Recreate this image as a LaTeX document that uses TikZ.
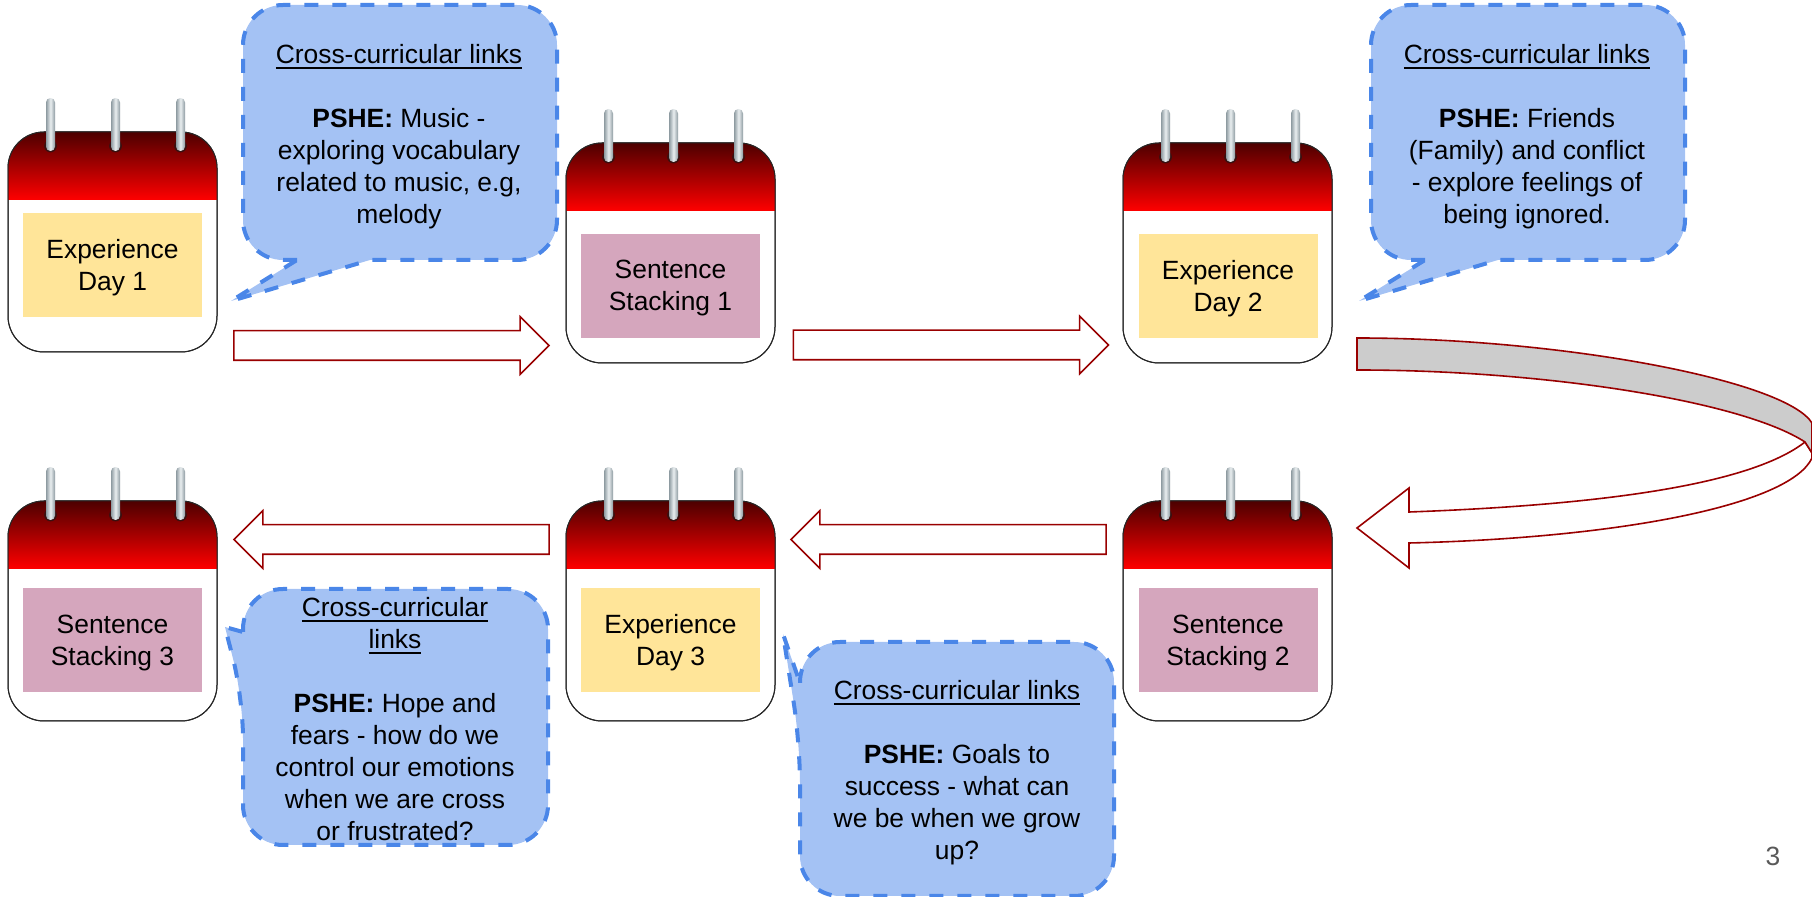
\documentclass[tikz,border=0pt]{standalone}
\usepackage{fontspec}
\setmainfont{Liberation Sans}
\usetikzlibrary{calc,shapes.arrows}
\definecolor{bandtop}{HTML}{4D0000}
\definecolor{bandred}{HTML}{FF0000}
\definecolor{ringedge}{HTML}{8E9BA1}
\definecolor{ringlight}{HTML}{E9EEF0}
\definecolor{ringhole}{HTML}{3A1010}
\definecolor{arrowred}{HTML}{990000}
\definecolor{expyellow}{HTML}{FFE599}
\definecolor{stackpink}{HTML}{D5A6BD}
\definecolor{linkfill}{HTML}{A4C2F4}
\definecolor{linkline}{HTML}{4A86E8}
\definecolor{pagegray}{HTML}{595959}
\newcommand{\linkhead}[1]{\setbox0\hbox{#1}\rlap{\rule[-2.6pt]{\wd0}{1pt}}\box0}
\tikzset{
  labeltext/.style={font=\fontsize{13.2}{16}\selectfont,align=center,text=black},
  calbody/.style={draw=black!85,line width=.5pt,fill=white,rounded corners=18pt,
    minimum width=104.5pt,minimum height=110pt,inner sep=0pt,outer sep=0pt},
  daynote/.style={minimum width=89.5pt,minimum height=52pt,inner sep=0pt},
  flowarrow/.style={single arrow,draw=arrowred,fill=white,line width=.8pt,inner xsep=0pt,inner ysep=7pt,
    minimum height=157.5pt,single arrow head extend=7pt,single arrow tip angle=90},
  backarrow/.style={flowarrow,shape border rotate=180},
  bendarrow/.style={draw=arrowred,line width=.8pt},
  linkbox/.style={draw=linkline,fill=linkfill,line width=2pt,line join=round,dash pattern=on 7pt off 7pt}
}
% name, x, y of the centre
\newcommand{\daycal}[3]{
  \node[calbody] (#1) at (#2,#3) {};
  \begin{scope}
    \clip[rounded corners=18pt] (#1.south west) rectangle (#1.north east);
    \shade[top color=bandtop,bottom color=bandred] (#1.north west) rectangle ($(#1.north east)+(0,68)$);
  \end{scope}
  \draw[line width=.5pt,draw=black!85,rounded corners=18pt] (#1.south west) rectangle (#1.north east);
  \foreach \dx in {-62,3,68}{
    \fill[ringhole] ($(#1.north)+(\dx,14)$) circle (3.2pt);
    \shade[left color=ringedge,right color=ringedge,middle color=ringlight,rounded corners=2.2pt]
      ($(#1.north)+(\dx-4.5,-34)$) rectangle ($(#1.north)+(\dx+4.5,19)$);
  }
}
% name, x, y, colour, text
\newcommand{\daynote}[5]{
  \node[daynote,fill=#4] (#1) at (#2,#3) {};
  \node[labeltext] (#1text) at ($(#1)+(0,2.5)$) {#5};
}
\begin{document}
\begin{tikzpicture}[x=.5pt,y=-.5pt]
\useasboundingbox (0,0) rectangle (1812,897);

% top row
\daycal{calA}{112.5}{242}
\daycal{calB}{670.5}{253}
\daycal{calC}{1227.5}{253}
% bottom row
\daycal{calD}{1227.5}{611}
\daycal{calE}{670.5}{611}
\daycal{calF}{112.5}{611}

\daynote{noteA}{112.5}{265}{expyellow}{Experience\\Day 1}
\daynote{noteB}{670.5}{286}{stackpink}{Sentence\\Stacking 1}
\daynote{noteC}{1228}{286}{expyellow}{Experience\\Day 2}
\daynote{noteD}{1228}{640.5}{stackpink}{Sentence\\Stacking 2}
\daynote{noteE}{670.5}{640.5}{expyellow}{Experience\\Day 3}
\daynote{noteF}{112.5}{640.5}{stackpink}{Sentence\\Stacking 3}

\node[flowarrow] (stepA) at ($(calA.south east)!.5!(calB.south west)+(-7.5,-12)$) {};
\node[flowarrow] (stepB) at ($(calB.south east)!.5!(calC.south west)+(-5.5,-18)$) {};
\node[backarrow] (stepD) at ($(calD.north west)!.5!(calE.north east)+(7,38.5)$) {};
\node[backarrow] (stepE) at ($(calE.north west)!.5!(calF.north east)+(7.5,38.5)$) {};

% bent arrow round the right edge
\draw[bendarrow,fill=white] (1812,453) -- (1812,458) .. controls (1790,505) and (1620,538) .. (1409,543) -- (1409,568)
  -- (1357,528) -- (1409,488) -- (1409,512) .. controls (1600,505) and (1750,485) .. (1805,442) -- cycle;
\draw[bendarrow,fill=black!20] (1357,338) .. controls (1560,338) and (1785,380) .. (1812,423) -- (1812,453)
  -- (1805,442) .. controls (1740,400) and (1540,370) .. (1357,370) -- cycle;

% callouts
\draw[linkbox] (297,260) [rounded corners=20pt] -- (243,260) -- (243,5) -- (557,5) -- (557,260)
  [sharp corners] -- (370,260) -- (231,301) -- cycle;
\node[labeltext] (linkA) at (399,137) {\linkhead{Cross-curricular links}\\[16pt]\textbf{PSHE:} Music -\\exploring vocabulary\\related to music, e.g,\\melody};

\draw[linkbox] (1425,260) [rounded corners=20pt] -- (1371,260) -- (1371,5) -- (1685,5) -- (1685,260)
  [sharp corners] -- (1498,260) -- (1359,301) -- cycle;
\node[labeltext] (linkB) at (1527,137) {\linkhead{Cross-curricular links}\\[16pt]\textbf{PSHE:} Friends\\(Family) and conflict\\- explore feelings of\\being ignored.};

\draw[linkbox] (243,632) [rounded corners=20pt] -- (243,589) -- (548,589) -- (548,845) -- (243,845) -- (243,698)
  [sharp corners] -- (225,627) -- cycle;
\node[labeltext] (linkF) at (395,719.5) {\linkhead{Cross-curricular}\\\linkhead{links}\\[16pt]\textbf{PSHE:} Hope and\\fears - how do we\\control our emotions\\when we are cross\\or frustrated?};

\draw[linkbox] (800,683) [rounded corners=20pt] -- (800,642) -- (1114,642) -- (1114,896) -- (800,896) -- (800,743)
  [sharp corners] -- (783,634) -- cycle;
\node[labeltext] (linkE) at (957,773) {\linkhead{Cross-curricular links}\\[16pt]\textbf{PSHE:} Goals to\\success - what can\\we be when we grow\\up?};

\node[labeltext,text=pagegray] (pagenum) at (1773,856) {3};
\end{tikzpicture}
\end{document}
